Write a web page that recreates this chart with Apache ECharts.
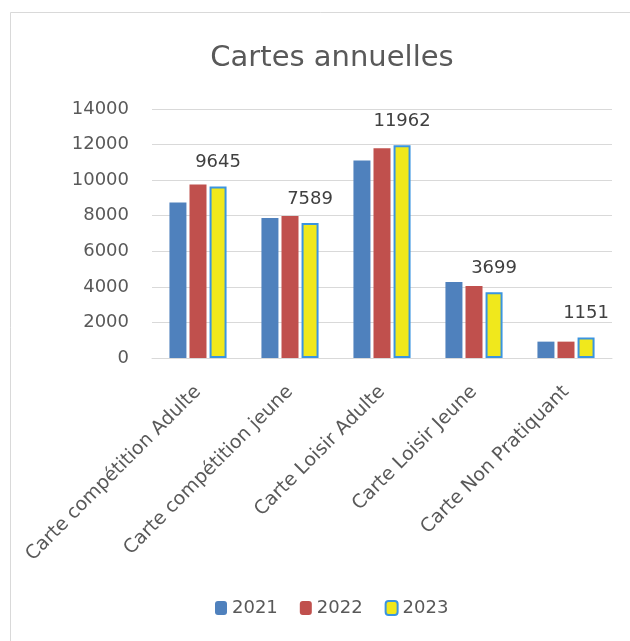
<!DOCTYPE html>
<html>
<head>
<meta charset="utf-8">
<script src="https://cdn.jsdelivr.net/npm/echarts@6/dist/echarts.min.js"></script>
<style>
html,body{margin:0;padding:0;background:#fff;}
#chart{width:630px;height:641px;}
</style>
</head>
<body>
<div id="chart"></div>
<script>
const categories = ["Carte compétition Adulte", "Carte compétition jeune", "Carte Loisir Adulte", "Carte Loisir Jeune", "Carte Non Pratiquant"];
const seriesNames = ["2021", "2022", "2023"];
const values2021 = [8750, 7870, 11110, 4270, 920];
const values2022 = [9760, 7980, 11790, 4050, 920];
const values2023 = [9645, 7589, 11962, 3699, 1151];
const yTicks = [0, 2000, 4000, 6000, 8000, 10000, 12000, 14000];

const FONT = "DejaVu Sans";
const chart = echarts.init(document.getElementById('chart'), null, {renderer: 'canvas'});
chart.setOption({
  backgroundColor: '#ffffff',
  animation: false,
  textStyle: {fontFamily: FONT},
  graphic: [{
    type: 'rect',
    shape: {x: 10.5, y: 12.5, width: 640, height: 640},
    style: {fill: 'none', stroke: '#d9d9d9', lineWidth: 1},
    silent: true,
    z: -1
  }],
  title: {
    text: 'Cartes annuelles',
    left: 327,
    textAlign: 'center',
    top: 39,
    textStyle: {fontFamily: FONT, fontSize: 29, fontWeight: 'normal', color: '#595959'}
  },
  legend: {
    data: seriesNames,
    bottom: 19,
    left: 210,
    itemWidth: 12,
    itemHeight: 14,
    itemGap: 22,
    textStyle: {fontFamily: FONT, fontSize: 18, color: '#595959'}
  },
  grid: {left: 152, right: 18, top: 109, bottom: 283, containLabel: false},
  xAxis: {
    type: 'category',
    data: categories,
    axisLine: {show: true, lineStyle: {color: '#d9d9d9', width: 1}},
    axisTick: {show: false},
    axisLabel: {
      rotate: 45,
      margin: 31,
      interval: 0,
      fontFamily: FONT,
      fontSize: 19,
      color: '#595959'
    }
  },
  yAxis: {
    type: 'value',
    min: yTicks[0],
    max: yTicks[yTicks.length - 1],
    interval: 2000,
    axisLine: {show: false},
    axisTick: {show: false},
    splitLine: {lineStyle: {color: '#d9d9d9', width: 1}},
    axisLabel: {fontFamily: FONT, fontSize: 18, color: '#595959', margin: 23, formatter: v => String(v)}
  },
  series: [
    {
      name: seriesNames[0], type: 'bar', data: values2021,
      barWidth: 17, barGap: '18%',
      itemStyle: {color: '#4F81BD'}
    },
    {
      name: seriesNames[1], type: 'bar', data: values2022,
      barWidth: 17, barGap: '18%',
      itemStyle: {color: '#C0504D'}
    },
    {
      name: seriesNames[2], type: 'bar', data: values2023,
      barWidth: 17, barGap: '18%',
      itemStyle: {color: '#F0E81C', borderColor: '#3A94E0', borderWidth: 2},
      label: {show: true, position: 'top', distance: 15, fontFamily: FONT, fontSize: 18, color: '#404040'}
    }
  ]
});
</script>
</body>
</html>
